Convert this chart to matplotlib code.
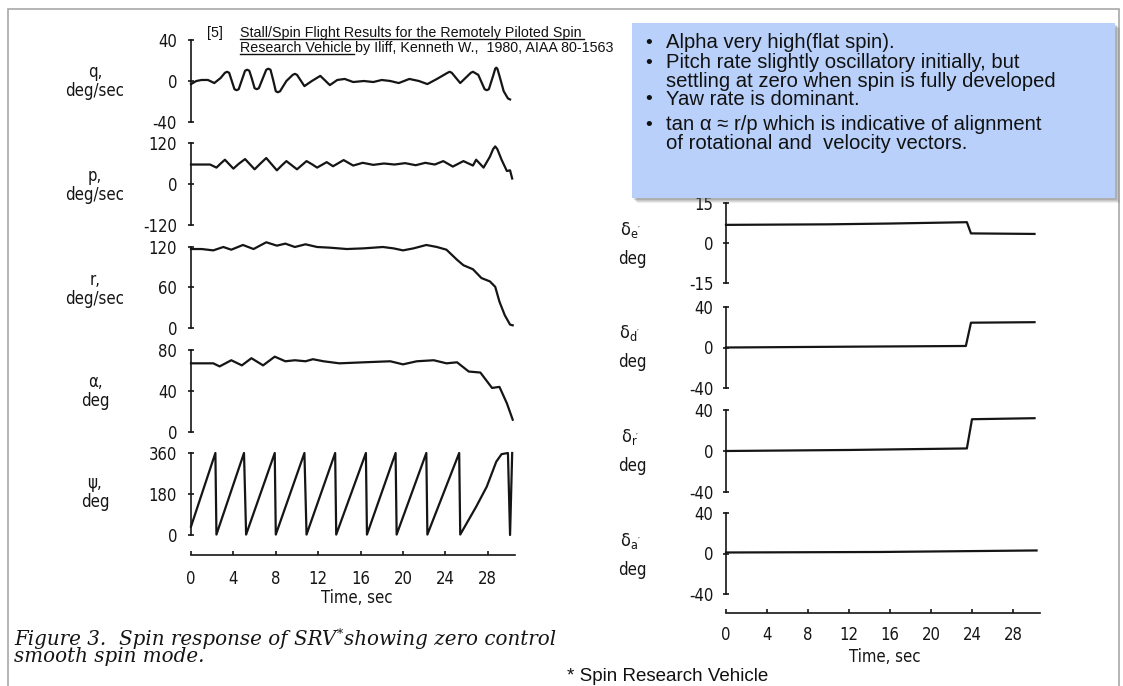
import matplotlib
matplotlib.use("Agg")
import matplotlib.pyplot as plt
from matplotlib.patches import Rectangle

W, H = 1123, 686
plt.rcParams['axes.unicode_minus'] = False
plt.rcParams['mathtext.default'] = 'regular'

# -------------------------
# Data (time in sec)
# -------------------------
q_t = [0.0, 0.5, 1.0, 1.6, 2.2, 2.8, 3.2, 3.4, 3.6, 3.85, 4.1, 4.3, 4.5, 4.8, 5.1, 5.3, 5.5,
       5.75, 6.0, 6.2, 6.4, 6.75, 7.1, 7.3, 7.5, 7.75, 8.0, 8.2, 8.4, 9.0, 9.6, 9.8, 10.0,
       10.7, 11.4, 12.2, 13.1, 13.8, 14.5, 15.3, 16.3, 17.2, 18.0, 18.8,
       19.6, 20.6, 21.5, 22.3, 23.2, 24.2, 24.4, 24.6, 25.4, 26.4, 26.6, 27.1, 27.7, 27.9,
       28.1, 28.5, 28.7, 28.8, 28.9, 29.1, 29.5, 29.9, 30.1]
q_v = [-3, 0, 1, 1, -2, 3, 8, 9, 8, 0, -8, -9, -8, 1, 10, 11, 10,
       2, -7, -8, -7, 2, 11, 12, 11, 1, -10, -11, -10, 0, 6, 7, 6,
       -5, 0, 5, -4, 1, 2, -1, 0, -1, 1, 0,
       -2, 2, 0, -3, 2, 8, 9, 8, -2, 8, 9, 6, -8, -9,
       -8, 5, 12, 13, 12, 5, -10, -17, -18]

p_t = [0.0, 1.8, 2.4, 2.8, 3.2, 3.6, 4.0, 4.5, 5.1, 5.55, 6.0, 6.55, 7.1, 7.6, 8.1, 8.55,
       9.0, 9.5, 10.0, 10.45, 10.9, 11.4, 11.9, 12.35, 12.8, 13.4, 14.4, 15.3, 16.2, 17.2,
       18.2, 19.2, 20.2, 21.2, 22.1, 23.0, 23.8, 24.7, 25.7, 26.6, 26.9, 27.6, 28.2, 28.5,
       28.7, 28.9, 29.3, 29.8, 30.1, 30.3]
p_v = [57, 57, 48, 60, 71, 58, 45, 59, 73, 58, 43, 60, 76, 58, 40, 54,
       67, 55, 43, 55, 67, 58, 48, 56, 64, 52, 70, 54, 62, 56,
       60, 57, 61, 55, 62, 57, 67, 51, 67, 54, 71, 48, 80, 102,
       110, 102, 71, 38, 40, 16]

r_t = [0.0, 1.0, 2.1, 3.05, 3.8, 4.9, 5.9, 7.1, 8.1, 8.9, 9.8, 10.8, 11.9, 13.1, 14.7,
       16.3, 18.1, 19.1, 20.0, 21.0, 22.2, 23.2, 24.1, 25.1, 25.7, 26.6, 27.4, 28.2,
       28.7, 29.1, 29.6, 30.1, 30.35]
r_v = [117, 117, 115, 120, 116, 123, 117, 127, 122, 125, 120, 124, 120, 119, 117,
       118, 120, 118, 115, 118, 123, 120, 116, 101, 93, 87, 74, 69,
       61, 39, 19, 5, 4]

a_t = [0.0, 1.0, 2.1, 2.7, 3.8, 4.8, 5.7, 6.8, 7.9, 8.9, 9.8, 10.8, 11.5, 12.5, 14.0,
       16.3, 18.8, 20.0, 21.3, 22.9, 24.1, 25.1, 26.2, 27.3, 28.4, 29.1, 29.8, 30.35]
a_v = [67, 67, 67, 64, 70, 65, 72, 65, 73.5, 69, 70, 69, 71, 69, 67,
       68, 69, 66, 69, 70, 67, 68, 59, 58, 43, 44, 28, 12]

psi_t = [0.0, 2.3, 2.4, 5.0, 5.2, 7.9, 8.0, 10.7, 10.9, 13.6, 13.7, 16.5, 16.6, 19.3,
         19.4, 22.2, 22.3, 25.3, 25.4, 26.9, 27.9, 28.8, 29.3, 29.9, 30.1, 30.3]
psi_v = [37, 360, 2, 360, 2, 360, 2, 360, 2, 360, 2, 360, 2, 360,
         2, 360, 2, 360, 2, 124, 212, 322, 355, 360, 0, 360]

de_t = [0.0, 10.0, 16.0, 23.5, 23.9, 30.1]
de_v = [6.8, 7.0, 7.3, 7.8, 3.6, 3.4]
dd_t = [0.0, 12.0, 23.4, 23.9, 30.1]
dd_v = [0.0, 0.8, 1.5, 24.5, 25.0]
dr_t = [0.0, 12.0, 23.5, 24.0, 30.1]
dr_v = [0.0, 1.0, 2.5, 31.0, 32.0]
da_t = [0.0, 15.0, 30.3]
da_v = [1.0, 1.5, 3.0]

time_ticks = [0, 4, 8, 12, 16, 20, 24, 28]

left_names = ["q,", "p,", "r,", "\u03b1,", "\u03c8,"]
left_units = ["deg/sec", "deg/sec", "deg/sec", "deg", "deg"]
right_names = [r"$\delta_{e'}$", r"$\delta_{d'}$", r"$\delta_{r'}$", r"$\delta_{a'}$"]

bullets = ["Alpha very high(flat spin).",
           "Pitch rate slightly oscillatory initially, but\nsettling at zero when spin is fully developed",
           "Yaw rate is dominant.",
           "tan \u03b1 \u2248 r/p which is indicative of alignment\nof rotational and  velocity vectors."]

NARROW = dict(family=['DejaVu Sans'], stretch='condensed')
SANS = ['Liberation Sans', 'DejaVu Sans']
INK = '#151515'

fig = plt.figure(figsize=(W / 100, H / 100), dpi=100)


def fx(x):
    return x / W


def fy(y):
    return 1 - y / H


def panel(x0, x1, ytop, ybot, t, v, lims, ticks, pad):
    ax = fig.add_axes([fx(x0), fy(ybot), fx(x1 - x0), (ybot - ytop) / H])
    ax.plot(t, v, color=INK, lw=1.6, clip_on=False)
    ax.set_xlim(0, 30.6)
    ax.set_ylim(*lims)
    for s in ['top', 'right', 'bottom']:
        ax.spines[s].set_visible(False)
    ax.spines['left'].set_linewidth(1.2)
    ax.spines['left'].set_color(INK)
    ax.set_yticks(ticks)
    ax.set_yticklabels([str(k) for k in ticks], fontsize=12, color=INK, **NARROW)
    ax.tick_params(axis='y', direction='inout', length=5, width=1.2, pad=pad, color=INK)
    ax.set_xticks([])
    ax.patch.set_alpha(0)
    return ax


def time_axis(ax, out_pts, pad):
    ax.spines['bottom'].set_visible(True)
    ax.spines['bottom'].set_position(('outward', out_pts))
    ax.spines['bottom'].set_linewidth(1.2)
    ax.spines['bottom'].set_color(INK)
    ax.set_xticks(time_ticks)
    ax.set_xticklabels([str(k) for k in time_ticks], fontsize=12, color=INK, **NARROW)
    ax.tick_params(axis='x', direction='in', length=3, width=1.2, pad=pad, color=INK)


# left column
LX0, LX1 = 191, 191 + 30.6 * 10.6
panel(LX0, LX1, 40, 122, q_t, q_v, (-40, 40), [40, 0, -40], 7.5)
panel(LX0, LX1, 143, 225, p_t, p_v, (-120, 120), [120, 0, -120], 7.5)
panel(LX0, LX1, 247, 328, r_t, r_v, (0, 120), [120, 60, 0], 7.5)
panel(LX0, LX1, 350, 432, a_t, a_v, (0, 80), [80, 40, 0], 7.5)
ax_psi = panel(LX0, LX1, 453, 535, psi_t, psi_v, (0, 360), [360, 180, 0], 7.5)
time_axis(ax_psi, 14.4, 11)

# right column
RX0, RX1 = 726, 726 + 30.6 * 10.25
panel(RX0, RX1, 203, 283, de_t, de_v, (-15, 15), [15, 0, -15], 6.5)
panel(RX0, RX1, 307, 388, dd_t, dd_v, (-40, 40), [40, 0, -40], 6.5)
panel(RX0, RX1, 410, 492, dr_t, dr_v, (-40, 40), [40, 0, -40], 6.5)
ax_da = panel(RX0, RX1, 513, 594, da_t, da_v, (-40, 40), [40, 0, -40], 6.5)
time_axis(ax_da, 13.7, 9.5)

lab = dict(fontsize=12, color=INK, ha='center', va='center', **NARROW)
for name, unit, yc in zip(left_names, left_units, [82, 186, 290, 392, 493]):
    fig.text(fx(95), fy(yc - 10), name, **lab)
    fig.text(fx(95), fy(yc + 9), unit, **lab)
for name, yc in zip(right_names, [244, 347, 451, 555]):
    fig.text(fx(630), fy(yc - 14), name, fontsize=13, color=INK, ha='center', va='center',
             **NARROW)
    fig.text(fx(632), fy(yc + 15), "deg", **lab)
fig.text(fx(357), fy(598), "Time, sec", **lab)
fig.text(fx(885), fy(657), "Time, sec", **lab)

# slide frame
fig.add_artist(Rectangle((fx(8), fy(690)), fx(1111), (690 - 9) / H, transform=fig.transFigure,
                         fill=False, edgecolor='#a8a8a8', lw=1.2))

# reference note with underlines
ref = dict(family=SANS, fontsize=10.3, color='#111111', va='baseline')
fig.text(fx(207), fy(37), "[5]", **ref)
t1 = fig.text(fx(240), fy(37), "Stall/Spin Flight Results for the Remotely Piloted Spin", **ref)
t2 = fig.text(fx(240), fy(52), "Research Vehicle", **ref)
fig.canvas.draw()
rend = fig.canvas.get_renderer()
b1 = t1.get_window_extent(rend)
b2 = t2.get_window_extent(rend)
fig.text((b2.x1 + 3) / W, fy(52), "by Iliff, Kenneth W.,  1980, AIAA 80-1563", **ref)
for bb, yb in [(b1, 39), (b2, 54)]:
    fig.add_artist(plt.Line2D([bb.x0 / W, (bb.x1 + 2) / W], [fy(yb), fy(yb)],
                              transform=fig.transFigure, color='#111111', lw=1.0))

# blue note box with a soft shadow
bx0, by0, bx1, by1 = 632, 23, 1115, 198
for k, a in [(5, 0.10), (4, 0.12), (3, 0.15), (2, 0.2)]:
    fig.add_artist(Rectangle((fx(bx0 + k), fy(by1 + k)), (bx1 - bx0) / W, (by1 - by0) / H,
                             transform=fig.transFigure, facecolor='#555555', edgecolor='none',
                             alpha=a, zorder=5))
fig.add_artist(Rectangle((fx(bx0), fy(by1)), (bx1 - bx0) / W, (by1 - by0) / H,
                         transform=fig.transFigure, facecolor='#b9d0fa', edgecolor='none',
                         zorder=6))
for txt, yy in zip(bullets, [33, 53, 90, 115]):
    fig.text(fx(645), fy(yy + 10), "\u2022", family=SANS, fontsize=14, color='#111111',
             va='center', zorder=7)
    fig.text(fx(666), fy(yy), txt, family=SANS, fontsize=14.6, color='#111111',
             va='top', linespacing=1.0, zorder=7)

# caption
cap = dict(family=['DejaVu Serif'], style='italic', fontsize=14.3, color=INK, va='baseline')
c1 = fig.text(fx(14), fy(645), "Figure 3.  Spin response of SRV", **cap)
fig.canvas.draw()
cb = c1.get_window_extent(fig.canvas.get_renderer())
fig.text((cb.x1 + 1) / W, fy(638), "*", family=['DejaVu Serif'], fontsize=9, color=INK,
         va='baseline')
fig.text((cb.x1 + 8) / W, fy(645), "showing zero control", **cap)
fig.text(fx(14), fy(662), "smooth spin mode.", **cap)

fig.text(fx(567), fy(681), "* Spin Research Vehicle", family=SANS,
         fontsize=13.5, color='#111111', va='baseline')

fig.savefig("out.png", dpi=100, facecolor='white')
